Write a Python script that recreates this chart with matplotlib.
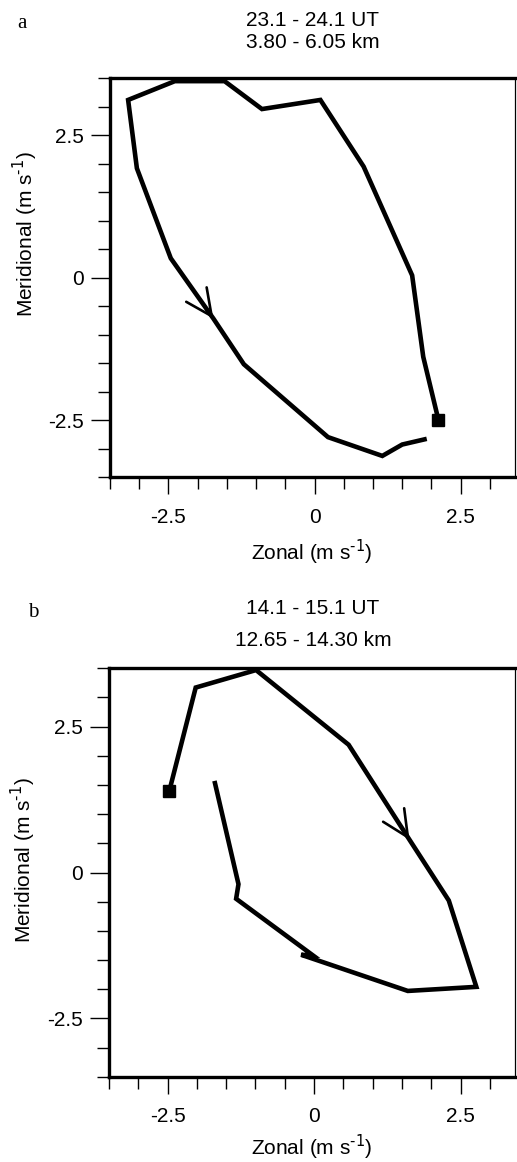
import numpy as np
import matplotlib.pyplot as plt
from matplotlib.ticker import MultipleLocator

plt.rcParams['font.family'] = ['Liberation Sans', 'DejaVu Sans']
plt.rcParams['axes.unicode_minus'] = False

# hodograph a: 23.1 - 24.1 UT, 3.80 - 6.05 km
u_a = [2.12, 1.86, 1.67, 0.84, 0.10, -0.90, -1.54, -2.39, -3.19, -3.04, -2.46,
       -1.73, -1.21, 0.23, 1.16, 1.50, 1.92]
v_a = [-2.50, -1.39, 0.04, 1.95, 3.12, 2.96, 3.45, 3.45, 3.12, 1.92, 0.34,
       -0.72, -1.52, -2.80, -3.13, -2.93, -2.83]
arrow_a = 11

# hodograph b: 14.1 - 15.1 UT, 12.65 - 14.30 km
u_b = [-2.47, -2.02, -0.99, 0.59, 1.63, 2.30, 2.77, 1.60, -0.22, -0.02, -1.33,
       -1.29, -1.70]
v_b = [1.40, 3.17, 3.47, 2.19, 0.56, -0.48, -1.96, -2.03, -1.41, -1.42, -0.45,
       -0.20, 1.57]
arrow_b = 4

titles = [('23.1 - 24.1 UT', '3.80 - 6.05 km'), ('14.1 - 15.1 UT', '12.65 - 14.30 km')]
letters = ['a', 'b']
ticks = [-2.5, 0, 2.5]
tick_labels = ['-2.5', '0', '2.5']

W, H = 517, 1162
fs = 15
fig = plt.figure(figsize=(W / 100, H / 100), dpi=100)


def px(x0, y0, x1, y1):
    return [x0 / W, 1 - y1 / H, (x1 - x0) / W, (y1 - y0) / H]


axes = [fig.add_axes(px(110, 78.3, 515, 477)),
        fig.add_axes(px(109, 668.3, 515, 1076.7))]

for ax, u, v, k in [(axes[0], u_a, v_a, arrow_a), (axes[1], u_b, v_b, arrow_b)]:
    ax.plot(u, v, color='black', lw=3.3, solid_joinstyle='miter',
            solid_capstyle='butt')
    ax.plot(u[0], v[0], 's', color='black', ms=9)
    ax.annotate('', xy=(u[k], v[k]), xytext=(u[k - 1], v[k - 1]),
                arrowprops=dict(arrowstyle='->,head_length=0.95,head_width=0.45',
                                mutation_scale=20, lw=1.9, color='black',
                                shrinkA=0, shrinkB=0))
    ax.set_xlim(-3.5, 3.43)
    ax.set_ylim(-3.5, 3.5)
    ax.xaxis.set_minor_locator(MultipleLocator(0.5))
    ax.yaxis.set_minor_locator(MultipleLocator(0.5))
    ax.set_xticks(ticks)
    ax.set_xticklabels(tick_labels)
    ax.set_yticks(ticks)
    ax.set_yticklabels(tick_labels)
    ax.tick_params(axis='x', which='major', direction='out', length=12, width=1.0,
                   pad=10, labelsize=fs)
    ax.tick_params(axis='y', which='major', direction='out', length=14, width=1.0,
                   pad=5, labelsize=fs)
    ax.tick_params(which='minor', direction='out', length=8.5, width=1.0)
    for s in ['left', 'bottom', 'top']:
        ax.spines[s].set_linewidth(2.4)
    ax.spines['right'].set_linewidth(0.9)
    ax.set_xlabel('Zonal (m s$^{\\text{-}1}$)', fontsize=fs)
    ax.set_ylabel('Meridional (m s$^{\\text{-}1}$)', fontsize=fs)

axes[0].xaxis.set_label_coords(0.499, -0.19)
axes[1].xaxis.set_label_coords(0.499, -0.172)
axes[0].yaxis.set_label_coords(-0.21, 0.61)
axes[1].yaxis.set_label_coords(-0.21, 0.53)
for ax in axes:
    ax.xaxis.label.set_va('center')
    ax.yaxis.label.set_va('center')

# titles and panel letters
fig.text(313 / W, 1 - 20 / H, titles[0][0], ha='center', va='center', fontsize=fs)
fig.text(313 / W, 1 - 42.5 / H, titles[0][1], ha='center', va='center', fontsize=fs)
fig.text(313 / W, 1 - 609 / H, titles[1][0], ha='center', va='center', fontsize=fs)
fig.text(313 / W, 1 - 641 / H, titles[1][1], ha='center', va='center', fontsize=fs)
fig.text(17 / W, 1 - 28 / H, letters[0], ha='left', va='baseline', fontsize=fs,
         family='Liberation Serif')
fig.text(28 / W, 1 - 617 / H, letters[1], ha='left', va='baseline', fontsize=fs,
         family='Liberation Serif')

plt.savefig('out.png', dpi=100)
